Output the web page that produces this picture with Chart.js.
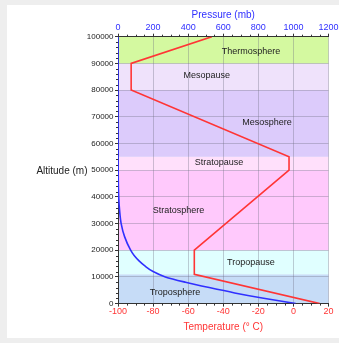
<!DOCTYPE html>
<html><head><meta charset="utf-8">
<script src="https://cdn.jsdelivr.net/npm/chart.js@4"></script>
<style>
html,body{margin:0;padding:0;background:#eeeeee;width:339px;height:343px;overflow:hidden}
#panel{position:absolute;left:7px;top:5px;width:332px;height:333px;background:#ffffff}
#c{position:absolute;left:0;top:0}
</style></head><body>
<div id="panel"></div>
<canvas id="c" width="339" height="343"></canvas>
<script>
// ---- data ----
const tempAltitudes = [0, 11000, 20000, 50000, 55000, 80000, 90000, 100000];
const temperatures  = [15, -56.5, -56.5, -2.5, -2.5, -92.5, -92.5, -46.5];

const pressAltitudes = [0, 2000, 4000, 6000, 8000, 10000, 12000, 14000, 16000, 18000, 20000, 25000, 30000, 35000, 40000, 50000, 60000, 70000, 80000, 90000, 100000];
const pressures      = [1013, 830, 665, 520, 385, 270, 200, 155, 120, 92, 72, 38, 18, 9, 4, 1, 0.3, 0.1, 0, 0, 0];

const bandNames   = ['Troposphere', 'Tropopause', 'Stratosphere', 'Stratopause', 'Mesosphere', 'Mesopause', 'Thermosphere'];
const bandBottoms = [0, 11000, 20000, 50000, 55000, 80000, 90000];
const bandTops    = [11000, 20000, 50000, 55000, 80000, 90000, 100000];
const bandLabelTemps = [-67.5, -24.2, -65.5, -42.4, -15, -49.4, -24.2];
const bandLabelAlts  = [4100, 15500, 34700, 52800, 68000, 85300, 94600];

const altitudeTicks = [0, 100000, 10000];   // min, max, step
const tempTicks     = [-100, 20, 20];
const pressureTicks = [0, 1200, 200];

// ---- styles ----
const bandColors = ['#c6dcf7', '#e0ffff', '#ffc9fc', '#ffe0fb', '#dccbfb', '#efe2fb', '#d4f9a0'];
const FONT = "'Liberation Sans', Arial, Helvetica, sans-serif";
const RED = '#ff3535', BLUE = '#3030ff', AXIS = '#333333';
const GRID = 'rgba(110,110,130,0.35)';
Chart.defaults.font.family = FONT;

const atmoPlugin = {
  id: 'atmo',
  beforeDraw(chart) {
    const {ctx, chartArea: a, scales: {y}} = chart;
    ctx.save();
    for (let i = 0; i < bandNames.length; i++) {
      const t = y.getPixelForValue(bandTops[i]);
      const b = y.getPixelForValue(bandBottoms[i]);
      ctx.fillStyle = bandColors[i];
      ctx.fillRect(a.left, t, a.right - a.left, b - t);
    }
    ctx.restore();
  },
  beforeDatasetsDraw(chart) {
    const {ctx, scales: {x, y}} = chart;
    ctx.save();
    ctx.font = '9px ' + FONT;
    ctx.fillStyle = '#222';
    ctx.textAlign = 'center';
    ctx.textBaseline = 'middle';
    for (let i = 0; i < bandNames.length; i++) {
      ctx.fillText(bandNames[i], x.getPixelForValue(bandLabelTemps[i]), y.getPixelForValue(bandLabelAlts[i]));
    }
    ctx.restore();
  },
  afterDraw(chart) {
    const {ctx, chartArea: a, scales: {x, x2, y}} = chart;
    ctx.save();
    ctx.strokeStyle = AXIS;
    ctx.lineWidth = 1;
    ctx.beginPath();
    // minor ticks
    for (let v = altitudeTicks[0]; v <= altitudeTicks[1]; v += 2000) {
      if (v % altitudeTicks[2] === 0) continue;
      const py = Math.round(y.getPixelForValue(v)) + 0.5;
      ctx.moveTo(a.left - 2, py); ctx.lineTo(a.left, py);
    }
    for (let v = tempTicks[0]; v <= tempTicks[1]; v += 5) {
      if ((v - tempTicks[0]) % tempTicks[2] === 0) continue;
      const px = Math.round(x.getPixelForValue(v)) + 0.5;
      ctx.moveTo(px, a.bottom); ctx.lineTo(px, a.bottom + 2);
    }
    for (let v = pressureTicks[0]; v <= pressureTicks[1]; v += 50) {
      if (v % pressureTicks[2] === 0) continue;
      const px = Math.round(x2.getPixelForValue(v)) + 0.5;
      ctx.moveTo(px, a.top - 2); ctx.lineTo(px, a.top);
    }
    ctx.stroke();
    // horizontal y-axis title
    ctx.font = '10px ' + FONT;
    ctx.fillStyle = '#222';
    ctx.textAlign = 'right';
    ctx.textBaseline = 'middle';
    ctx.fillText('Altitude (m)', a.left - 30.5, y.getPixelForValue(50000) + 1);
    ctx.restore();
  }
};

new Chart(document.getElementById('c'), {
  type: 'line',
  data: {
    datasets: [
      {
        label: 'Pressure (mb)',
        data: pressAltitudes.map((h, i) => ({x: pressures[i], y: h})),
        xAxisID: 'x2', yAxisID: 'y', indexAxis: 'y',
        borderColor: BLUE, borderWidth: 1.6, pointRadius: 0,
        cubicInterpolationMode: 'monotone', fill: false
      },
      {
        label: 'Temperature (° C)',
        data: tempAltitudes.map((h, i) => ({x: temperatures[i], y: h})),
        xAxisID: 'x', yAxisID: 'y', indexAxis: 'y',
        borderColor: RED, borderWidth: 1.6, pointRadius: 0,
        tension: 0, fill: false
      }
    ]
  },
  options: {
    responsive: false, animation: false, devicePixelRatio: 1,
    layout: {padding: {top: 9.3, left: 0, right: 10.5, bottom: 9.3}},
    plugins: {legend: {display: false}, tooltip: {enabled: false}},
    events: [],
    scales: {
      y: {
        type: 'linear', position: 'left',
        min: altitudeTicks[0], max: altitudeTicks[1],
        ticks: {stepSize: altitudeTicks[2], autoSkip: false, color: '#222', font: {size: 8}, padding: 1.5,
                callback: v => String(v)},
        grid: {color: GRID, tickColor: AXIS, tickLength: 3, lineWidth: 1},
        border: {color: AXIS, width: 1},
        afterFit(s) { s.width = 118; s.paddingTop = 0; s.paddingBottom = 0; }
      },
      x: {
        type: 'linear', position: 'bottom',
        min: tempTicks[0], max: tempTicks[1],
        ticks: {stepSize: tempTicks[2], autoSkip: false, color: RED, font: {size: 9}, padding: 0, maxRotation: 0,
                callback: v => String(v)},
        grid: {color: GRID, tickColor: AXIS, tickLength: 3, lineWidth: 1},
        border: {color: AXIS, width: 1},
        title: {display: true, text: 'Temperature (° C)', color: RED, font: {size: 10}, padding: 0},
        afterFit(s) { s.height = 30.1; s.paddingLeft = 0; s.paddingRight = 0; }
      },
      x2: {
        type: 'linear', position: 'top',
        min: pressureTicks[0], max: pressureTicks[1],
        ticks: {stepSize: pressureTicks[2], autoSkip: false, color: BLUE, font: {size: 9}, padding: 0.5, maxRotation: 0,
                callback: v => String(v)},
        grid: {drawOnChartArea: false, tickColor: AXIS, tickLength: 3, lineWidth: 1},
        border: {color: AXIS, width: 1},
        title: {display: true, text: 'Pressure (mb)', color: BLUE, font: {size: 10}, padding: 0},
        afterFit(s) { s.height = 27.4; s.paddingLeft = 0; s.paddingRight = 0; }
      }
    }
  },
  plugins: [atmoPlugin]
});
</script>
</body></html>
